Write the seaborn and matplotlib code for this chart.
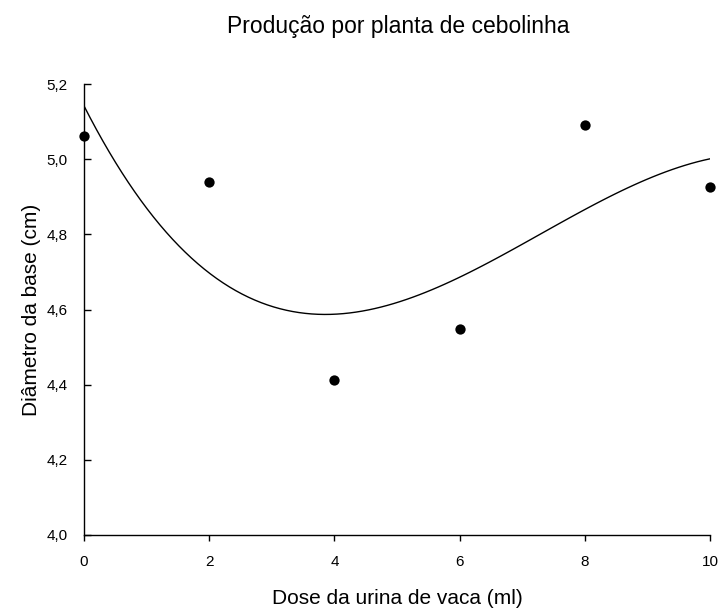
import numpy as np
import pandas as pd
import matplotlib
matplotlib.use("Agg")
import matplotlib.pyplot as plt
import seaborn as sns
from matplotlib.ticker import FuncFormatter

# Dados
dose = [0, 2, 4, 6, 8, 10]
diametro = [5.062, 4.940, 4.413, 4.549, 5.090, 4.925]
xticks = [0, 2, 4, 6, 8, 10]
yticks = [4.0, 4.2, 4.4, 4.6, 4.8, 5.0, 5.2]

df = pd.DataFrame({"dose": dose, "diametro": diametro})

sns.set_style("ticks", {"text.color": "black", "axes.labelcolor": "black",
                        "xtick.color": "black", "ytick.color": "black",
                        "axes.edgecolor": "black"})
plt.rcParams['font.family'] = ['Liberation Sans', 'DejaVu Sans']

fig = plt.figure(figsize=(7.2, 6.09), dpi=100)
ax = fig.add_axes([84/720, 1 - 535/609, (710 - 84)/720, (535 - 84)/609])

# curva ajustada (polinômio de 3º grau) + pontos
sns.regplot(data=df, x="dose", y="diametro", order=3, ci=None, ax=ax,
            scatter_kws={"s": 55, "color": "black", "alpha": 1, "linewidths": 0,
                         "zorder": 3, "clip_on": False},
            line_kws={"color": "black", "lw": 1.0})

ax.set_xlim(0, 10)
ax.set_ylim(4.0, 5.2)
ax.set_xticks(xticks)
ax.set_yticks(yticks)
ax.yaxis.set_major_formatter(FuncFormatter(lambda v, p: f"{v:.1f}".replace('.', ',')))
ax.tick_params(axis='x', direction='out', length=4.5, width=1, pad=10, labelsize=11)
ax.tick_params(axis='y', direction='in', length=5, width=1, pad=12, labelsize=11)
for s in ['left', 'bottom']:
    ax.spines[s].set_linewidth(1.0)
sns.despine(ax=ax)

ax.set_xlabel("Dose da urina de vaca (ml)", fontsize=15, labelpad=14)
ax.set_ylabel("Diâmetro da base (cm)", fontsize=15, labelpad=4)
fig.text(398/720, 1 - 26/609, "Produção por planta de cebolinha",
         ha='center', va='center', fontsize=16.5)

fig.savefig("out.png", dpi=100)
